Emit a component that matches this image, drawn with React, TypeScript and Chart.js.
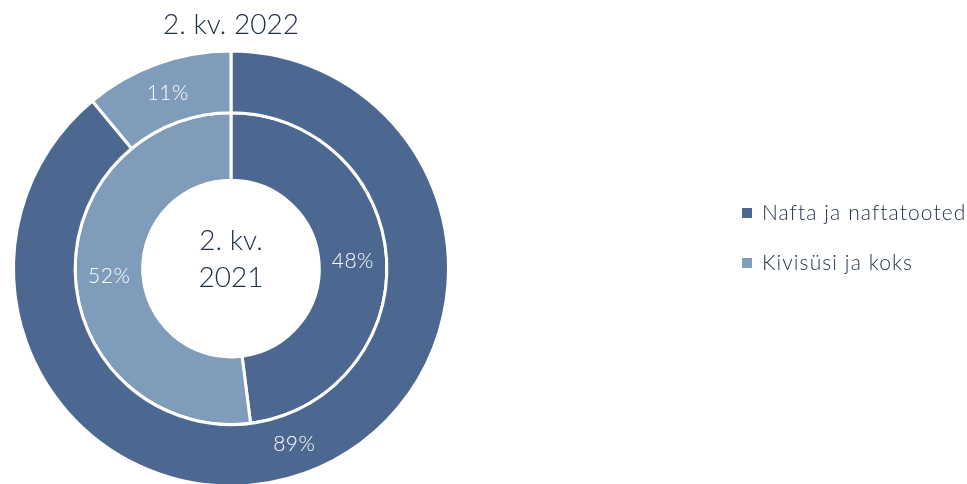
import React, { useEffect, useRef } from "react";
import { Chart, registerables } from "chart.js";
Chart.register(...registerables);

const categories = ["Nafta ja naftatooted", "Kivisüsi ja koks"];
const outerTitle = "2. kv. 2022";
const innerTitle = ["2. kv.", "2021"];
const values2022 = [89, 11];
const values2021 = [48, 52];
const colors = ["#4d6890", "#7f9cba"];

const FONT = "Lato";
const TEXT = "#1e2f45";

const labelPlugin = {
  id: "ringLabels",
  afterDatasetsDraw(chart: any) {
    const ctx = chart.ctx;
    ctx.save();
    ctx.fillStyle = "#ffffff";
    ctx.font = `300 21px ${FONT}`;
    ctx.textAlign = "center";
    ctx.textBaseline = "middle";
    try { ctx.letterSpacing = "0.5px"; } catch (e) {}
    chart.data.datasets.forEach((ds: any, i: number) => {
      const meta = chart.getDatasetMeta(i);
      meta.data.forEach((arc: any, j: number) => {
        const p = arc.tooltipPosition();
        ctx.fillText(ds.data[j] + "%", p.x, p.y);
      });
    });
    try { ctx.letterSpacing = "0px"; } catch (e) {}
    // center text
    const a = chart.getDatasetMeta(0).data[0];
    ctx.fillStyle = TEXT;
    ctx.font = `300 28px ${FONT}`;
    ctx.fillText(innerTitle[0], a.x, a.y - 28);
    ctx.fillText(innerTitle[1], a.x, a.y + 9);
    // legend
    ctx.textAlign = "left";
    ctx.font = `300 21px ${FONT}`;
    try { ctx.letterSpacing = "1.1px"; } catch (e) {}
    categories.forEach((c, k) => {
      const y = 213 + k * 50;
      ctx.fillStyle = colors[k];
      ctx.fillRect(742, y - 5, 10, 10);
      ctx.fillStyle = TEXT;
      ctx.fillText(c, 762, y);
    });
    ctx.restore();
  },
};

export default function App() {
  const ref = useRef<HTMLCanvasElement>(null);
  useEffect(() => {
    document.body.style.margin = "0";
    const chart = new Chart(ref.current!, {
      type: "doughnut",
      data: {
        labels: categories,
        datasets: [
          { data: values2022, backgroundColor: colors, borderColor: "#ffffff", borderWidth: 3, weight: 62 },
          { data: values2021, backgroundColor: colors, borderColor: "#ffffff", borderWidth: 3, weight: 68 },
        ],
      },
      options: {
        animation: false,
        responsive: false,
        cutout: "40.6%",
        layout: { padding: { top: 0, right: 505, bottom: 4.4, left: 0 } },
        plugins: {
          legend: { display: false },
          tooltip: { enabled: false },
          title: {
            display: true,
            text: outerTitle,
            color: TEXT,
            font: { family: FONT, size: 28, weight: "300", lineHeight: 1.2 },
            padding: { top: 8, bottom: 8 },
          },
        },
      },
      plugins: [labelPlugin],
    });
    return () => chart.destroy();
  }, []);
  return (
    <div style={{ position: "fixed", left: 0, top: 0, width: 967, height: 484, overflow: "hidden", background: "#fff" }}>
      <canvas ref={ref} width={967} height={492} style={{ width: 967, height: 492, display: "block" }} />
    </div>
  );
}
